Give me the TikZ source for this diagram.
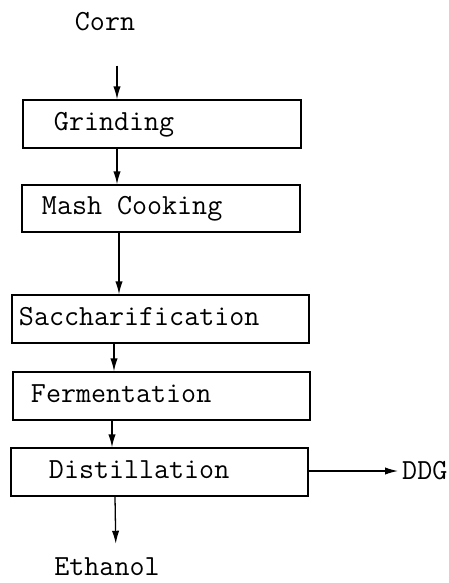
\documentclass[tikz,border=0pt]{standalone}
\usepackage{fontspec}
\usetikzlibrary{positioning,arrows.meta}

\begin{document}
\begin{tikzpicture}[x=0.03cm, y=-0.03cm,
	stage/.style={rectangle, draw, line width=1.1pt, minimum height=1.44cm,
		inner xsep=0pt, inner ysep=0pt, align=left, text height=0.6cm, text depth=0.24cm},
	narrowbox/.style={stage, text width=8.34cm},
	widebox/.style={stage, text width=8.91cm},
	product/.style={inner sep=0pt},
	flow/.style={-{Latex[length=3.9mm,width=2.2mm]}, line width=1.1pt},
	font=\ttfamily\fontsize{24.9}{28}\selectfont
	]
	\useasboundingbox (0,0) rectangle (449,583);
	\node (corn) [product] at (105,22) {Corn};
	\node (grind) [narrowbox] at (162,124) {\hspace*{0.93cm}Grinding};
	\node (mash) [narrowbox, minimum height=1.41cm] at (161,208.5) {\spaceskip=0pt\hspace*{0.6cm}Mash Cooking};
	\node (sacch) [widebox] at (160.5,319) {\hspace*{0.21cm}Saccharification};
	\node (ferm) [widebox] at (161.5,396) {\hspace*{0.54cm}Fermentation};
	\node (dist) [widebox] at (159.5,472) {\hspace*{1.14cm}Distillation};
	\node (ddg) [product, anchor=west] at (402,471) {DDG};
	\node (ethanol) [product] at (107,567) {Ethanol};
	\draw[flow, shorten <=1.02cm] (corn.south -| 117,0) -- (grind.north -| 117,0);
	\draw[flow] (grind.south -| 117,0) -- (mash.north -| 117,0);
	\draw[flow] (mash.south -| 119,0) -- (sacch.north -| 119,0);
	\draw[flow] (sacch.south -| 114,0) -- (ferm.north -| 114,0);
	\draw[flow] (ferm.south -| 112,0) -- (dist.north -| 112,0);
	\draw[flow, shorten >=0.42cm] (dist.south -| 115,0) -- (ethanol.north -| 116,0);
	\draw[flow, shorten >=0.12cm] (dist.east |- ddg.west) -- (ddg.west);
\end{tikzpicture}
\end{document}
